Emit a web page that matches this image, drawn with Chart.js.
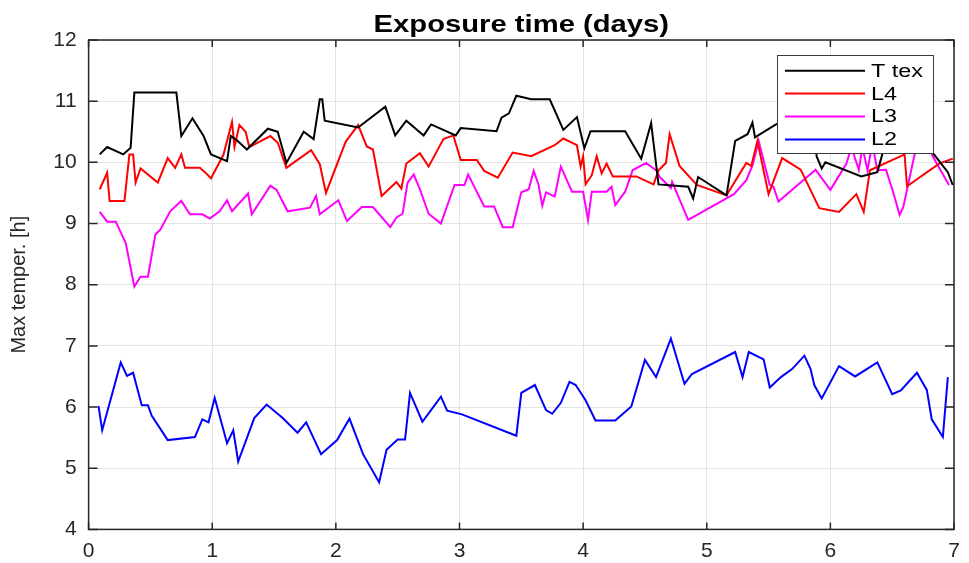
<!DOCTYPE html>
<html>
<head>
<meta charset="utf-8">
<script src="https://cdn.jsdelivr.net/npm/chart.js@4/dist/chart.umd.min.js"></script>
<style>
html, body { margin: 0; padding: 0; background: #fff; }
</style>
</head>
<body>
<canvas id="grafico" width="969" height="563"></canvas>
<script>
// data
const texDays = [0.09, 0.15, 0.28, 0.34, 0.37, 0.71, 0.75, 0.84, 0.93, 0.99, 1.12, 1.15, 1.20, 1.28, 1.45, 1.53, 1.60, 1.74, 1.82, 1.87, 1.89, 1.91, 2.18, 2.40, 2.48, 2.57, 2.71, 2.77, 2.97, 3.01, 3.30, 3.34, 3.40, 3.46, 3.58, 3.73, 3.84, 3.95, 4.01, 4.06, 4.34, 4.47, 4.55, 4.61, 4.85, 4.89, 4.93, 5.16, 5.23, 5.33, 5.37, 5.39, 5.56, 5.72, 5.86, 5.89, 5.93, 5.96, 6.25, 6.38, 6.45, 6.60, 6.80, 6.83, 6.95, 6.99];
const texValues = [10.13, 10.25, 10.13, 10.24, 11.14, 11.14, 10.43, 10.72, 10.43, 10.13, 10.02, 10.43, 10.36, 10.21, 10.55, 10.50, 9.99, 10.50, 10.38, 11.03, 11.03, 10.68, 10.57, 10.91, 10.44, 10.68, 10.44, 10.62, 10.44, 10.56, 10.51, 10.73, 10.80, 11.09, 11.03, 11.03, 10.53, 10.74, 10.23, 10.51, 10.51, 10.06, 10.64, 9.64, 9.60, 9.41, 9.76, 9.46, 10.35, 10.46, 10.65, 10.41, 10.62, 10.75, 10.55, 10.09, 9.90, 10.00, 9.77, 9.84, 10.35, 10.55, 10.45, 10.15, 9.84, 9.63];

const l4Days = [0.09, 0.15, 0.17, 0.29, 0.33, 0.36, 0.38, 0.42, 0.56, 0.64, 0.70, 0.75, 0.78, 0.90, 0.94, 0.99, 1.09, 1.16, 1.18, 1.22, 1.27, 1.30, 1.47, 1.53, 1.60, 1.80, 1.87, 1.92, 2.08, 2.18, 2.25, 2.30, 2.37, 2.49, 2.53, 2.57, 2.68, 2.75, 2.87, 2.95, 3.01, 3.14, 3.20, 3.31, 3.43, 3.58, 3.77, 3.84, 3.95, 3.98, 4.00, 4.02, 4.07, 4.11, 4.15, 4.19, 4.24, 4.43, 4.57, 4.61, 4.67, 4.70, 4.78, 4.92, 5.16, 5.32, 5.36, 5.41, 5.50, 5.61, 5.76, 5.91, 6.07, 6.21, 6.27, 6.32, 6.60, 6.62, 6.88, 6.99];
const l4Values = [9.56, 9.83, 9.37, 9.37, 10.13, 10.13, 9.67, 9.90, 9.67, 10.07, 9.91, 10.13, 9.91, 9.91, 9.84, 9.74, 10.12, 10.66, 10.25, 10.61, 10.50, 10.25, 10.43, 10.32, 9.91, 10.20, 9.97, 9.50, 10.34, 10.61, 10.26, 10.21, 9.45, 9.68, 9.57, 9.98, 10.15, 9.93, 10.38, 10.44, 10.04, 10.04, 9.86, 9.75, 10.16, 10.10, 10.28, 10.39, 10.28, 9.93, 10.10, 9.64, 9.79, 10.10, 9.82, 9.98, 9.77, 9.77, 9.64, 9.87, 9.99, 10.46, 9.94, 9.63, 9.46, 9.99, 9.94, 10.35, 9.48, 10.07, 9.88, 9.25, 9.19, 9.48, 9.19, 9.87, 10.13, 9.61, 9.98, 10.06];

const l3Days = [0.09, 0.15, 0.22, 0.30, 0.37, 0.42, 0.48, 0.54, 0.58, 0.66, 0.75, 0.82, 0.92, 0.98, 1.06, 1.12, 1.16, 1.29, 1.32, 1.47, 1.52, 1.61, 1.79, 1.84, 1.87, 2.02, 2.09, 2.21, 2.30, 2.44, 2.49, 2.54, 2.58, 2.63, 2.68, 2.75, 2.85, 2.96, 3.04, 3.07, 3.20, 3.28, 3.35, 3.43, 3.50, 3.56, 3.60, 3.64, 3.67, 3.70, 3.77, 3.82, 3.91, 4.00, 4.04, 4.07, 4.19, 4.23, 4.26, 4.34, 4.40, 4.51, 4.59, 4.62, 4.71, 4.72, 4.85, 5.22, 5.32, 5.37, 5.42, 5.51, 5.54, 5.58, 5.88, 6.00, 6.13, 6.17, 6.23, 6.26, 6.30, 6.34, 6.38, 6.45, 6.51, 6.56, 6.59, 6.68, 6.75, 6.86, 6.96];
const l3Values = [9.19, 9.03, 9.03, 8.68, 7.97, 8.13, 8.13, 8.82, 8.90, 9.20, 9.37, 9.15, 9.15, 9.08, 9.20, 9.38, 9.20, 9.49, 9.15, 9.62, 9.55, 9.20, 9.26, 9.45, 9.15, 9.38, 9.04, 9.27, 9.27, 8.94, 9.10, 9.16, 9.67, 9.80, 9.56, 9.16, 9.00, 9.63, 9.63, 9.80, 9.28, 9.28, 8.94, 8.94, 9.51, 9.56, 9.86, 9.63, 9.29, 9.51, 9.44, 9.93, 9.52, 9.52, 9.06, 9.52, 9.52, 9.60, 9.30, 9.52, 9.87, 9.99, 9.87, 9.76, 9.58, 9.68, 9.06, 9.48, 9.71, 9.95, 10.35, 9.63, 9.60, 9.36, 9.88, 9.55, 9.98, 10.25, 9.88, 10.25, 9.87, 10.30, 9.87, 9.88, 9.50, 9.14, 9.27, 10.12, 10.40, 9.98, 9.63];

const l2Days = [0.08, 0.11, 0.26, 0.31, 0.36, 0.43, 0.48, 0.51, 0.64, 0.86, 0.92, 0.97, 1.02, 1.12, 1.17, 1.21, 1.34, 1.44, 1.57, 1.69, 1.76, 1.88, 2.01, 2.11, 2.22, 2.35, 2.41, 2.50, 2.56, 2.60, 2.70, 2.85, 2.90, 3.02, 3.46, 3.50, 3.61, 3.70, 3.75, 3.82, 3.89, 3.94, 4.02, 4.10, 4.26, 4.39, 4.50, 4.59, 4.71, 4.82, 4.88, 5.23, 5.29, 5.34, 5.46, 5.51, 5.60, 5.69, 5.79, 5.84, 5.87, 5.93, 6.07, 6.20, 6.38, 6.50, 6.57, 6.70, 6.78, 6.82, 6.91, 6.95];
const l2Values = [6.02, 5.62, 6.73, 6.51, 6.56, 6.03, 6.03, 5.86, 5.46, 5.51, 5.80, 5.75, 6.15, 5.41, 5.62, 5.11, 5.82, 6.04, 5.82, 5.58, 5.75, 5.23, 5.46, 5.81, 5.23, 4.77, 5.30, 5.47, 5.47, 6.23, 5.76, 6.17, 5.94, 5.88, 5.53, 6.23, 6.36, 5.95, 5.89, 6.07, 6.41, 6.36, 6.11, 5.78, 5.78, 6.01, 6.77, 6.49, 7.12, 6.38, 6.54, 6.90, 6.49, 6.90, 6.78, 6.32, 6.49, 6.62, 6.84, 6.62, 6.36, 6.14, 6.67, 6.50, 6.73, 6.21, 6.27, 6.56, 6.28, 5.80, 5.51, 6.49];

const seriesNames = ['T tex', 'L4', 'L3', 'L2'];
const seriesColors = ['#000000', '#ff0000', '#ff00ff', '#0000ff'];
const xTicks = [0, 1, 2, 3, 4, 5, 6, 7];
const yTicks = [4, 5, 6, 7, 8, 9, 10, 11, 12];

const titleText = 'Exposure time (days)';
const yTitleText = 'Max temper. [h]';

const FONT = '"Liberation Sans", Arial, sans-serif';
const DARK = '#262626';

function juntar(dias, valores) {
	return dias.map((d, i) => ({ x: d, y: valores[i] }));
}

const allDays = [texDays, l4Days, l3Days, l2Days];
const allValues = [texValues, l4Values, l3Values, l2Values];

const datasets = seriesNames.map((nome, i) => ({
	label: nome,
	data: juntar(allDays[i], allValues[i]),
	borderColor: seriesColors[i],
	backgroundColor: seriesColors[i],
	borderWidth: 2,
	pointRadius: 0,
	tension: 0,
	fill: false
}));

// title, box, inward ticks and legend box
const molduraPlugin = {
	id: 'moldura',
	afterDraw(chart) {
		const ctx = chart.ctx;
		const a = chart.chartArea;
		const sx = chart.scales.x;
		const sy = chart.scales.y;

		ctx.save();
		ctx.strokeStyle = DARK;
		ctx.lineWidth = 1.5;
		ctx.strokeRect(a.left, a.top, a.right - a.left, a.bottom - a.top);

		ctx.lineWidth = 1.5;
		ctx.beginPath();
		xTicks.forEach(v => {
			const px = sx.getPixelForValue(v);
			ctx.moveTo(px, a.bottom); ctx.lineTo(px, a.bottom - 7);
			ctx.moveTo(px, a.top); ctx.lineTo(px, a.top + 7);
		});
		yTicks.forEach(v => {
			const py = sy.getPixelForValue(v);
			ctx.moveTo(a.left, py); ctx.lineTo(a.left + 9, py);
			ctx.moveTo(a.right, py); ctx.lineTo(a.right - 9, py);
		});
		ctx.stroke();

		// title
		ctx.fillStyle = '#000';
		ctx.font = 'bold 23px ' + FONT;
		ctx.textAlign = 'center';
		ctx.textBaseline = 'alphabetic';
		ctx.translate((a.left + a.right) / 2, 31.5);
		ctx.scale(1.27, 1);
		ctx.fillText(titleText, 0, 0);
		ctx.restore();

		// legend
		ctx.save();
		const bx = 777, by = 55, bw = 156, bh = 98;
		ctx.fillStyle = '#fff';
		ctx.fillRect(bx, by, bw, bh);
		ctx.strokeStyle = '#3c3c3c';
		ctx.lineWidth = 1;
		ctx.strokeRect(bx + 0.5, by + 0.5, bw, bh);
		seriesNames.forEach((nome, i) => {
			const ly = 70.7 + i * 22.9;
			ctx.strokeStyle = seriesColors[i];
			ctx.lineWidth = 2;
			ctx.beginPath();
			ctx.moveTo(785, ly); ctx.lineTo(865, ly);
			ctx.stroke();
			ctx.save();
			ctx.fillStyle = '#000';
			ctx.font = '18px ' + FONT;
			ctx.textAlign = 'left';
			ctx.textBaseline = 'middle';
			ctx.translate(871, ly + 1);
			ctx.scale(1.3, 1);
			ctx.fillText(nome, 0, 0);
			ctx.restore();
		});
		ctx.restore();
	}
};

const ctx = document.getElementById('grafico').getContext('2d');
const myChart = new Chart(ctx, {
	type: 'line',
	data: { datasets: datasets },
	plugins: [molduraPlugin],
	options: {
		responsive: false,
		animation: false,
		layout: { padding: { top: 40, right: 15, bottom: 0, left: 0 } },
		plugins: {
			legend: { display: false },
			title: { display: false },
			tooltip: { enabled: false }
		},
		scales: {
			x: {
				type: 'linear',
				min: 0,
				max: 7,
				afterFit: s => { s.height = 33.6; },
				afterBuildTicks: s => { s.ticks = xTicks.map(v => ({ value: v })); },
				grid: { color: '#e3e3e3', lineWidth: 1, drawTicks: false },
				border: { display: false },
				ticks: {
					color: DARK,
					padding: 9,
					maxRotation: 0,
					font: { family: FONT, size: 21 }
				}
			},
			y: {
				type: 'linear',
				min: 4,
				max: 12,
				afterFit: s => { s.width = 88.6; },
				afterBuildTicks: s => { s.ticks = yTicks.map(v => ({ value: v })); },
				grid: { color: '#e3e3e3', lineWidth: 1, drawTicks: false },
				border: { display: false },
				ticks: {
					color: DARK,
					padding: 12,
					font: { family: FONT, size: 21 }
				},
				title: {
					display: true,
					text: yTitleText,
					color: DARK,
					padding: { top: 7, bottom: 0 },
					font: { family: FONT, size: 20 }
				}
			}
		}
	}
});
</script>
</body>
</html>
